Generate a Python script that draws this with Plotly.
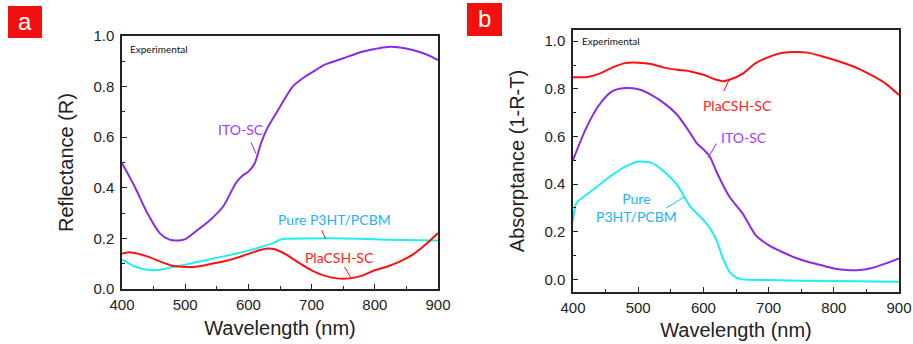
import plotly.graph_objects as go

# ---------- Panel a: Reflectance ----------
wl_ito_a = [400, 420, 440, 460, 475, 490, 500, 520, 540, 560, 580, 590, 600, 610, 620, 630, 650, 670, 690, 700, 720, 750, 780, 800, 820, 840, 860, 880, 900]
r_ito = [0.497, 0.405, 0.30, 0.22, 0.195, 0.192, 0.197, 0.234, 0.274, 0.326, 0.418, 0.447, 0.464, 0.497, 0.576, 0.636, 0.72, 0.80, 0.84, 0.855, 0.886, 0.912, 0.938, 0.949, 0.957, 0.955, 0.945, 0.929, 0.905]

wl_pure_a = [400, 420, 440, 460, 480, 500, 540, 580, 620, 640, 650, 660, 700, 750, 800, 820, 900]
r_pure = [0.116, 0.089, 0.076, 0.076, 0.087, 0.096, 0.118, 0.139, 0.166, 0.182, 0.195, 0.199, 0.20, 0.20, 0.197, 0.195, 0.192]

wl_pla_a = [400, 410, 420, 440, 460, 480, 500, 520, 540, 560, 580, 600, 620, 630, 640, 660, 680, 700, 720, 740, 760, 780, 800, 820, 840, 860, 880, 900]
r_pla = [0.139, 0.145, 0.142, 0.129, 0.109, 0.092, 0.087, 0.089, 0.099, 0.109, 0.122, 0.139, 0.155, 0.16, 0.158, 0.136, 0.103, 0.074, 0.053, 0.042, 0.042, 0.053, 0.074, 0.089, 0.109, 0.136, 0.175, 0.221]

# ---------- Panel b: Absorptance ----------
wl_pla_b = [400, 420, 440, 460, 480, 500, 520, 540, 560, 580, 600, 620, 630, 640, 660, 680, 700, 720, 740, 760, 780, 800, 820, 840, 860, 880, 900]
a_pla = [0.849, 0.849, 0.863, 0.889, 0.908, 0.91, 0.904, 0.889, 0.88, 0.873, 0.859, 0.838, 0.832, 0.838, 0.863, 0.908, 0.933, 0.95, 0.955, 0.952, 0.938, 0.922, 0.904, 0.882, 0.854, 0.821, 0.774]

wl_ito_b = [400, 420, 440, 460, 480, 500, 520, 540, 560, 580, 590, 600, 610, 620, 640, 660, 680, 700, 720, 740, 760, 780, 800, 820, 840, 860, 880, 900]
a_ito = [0.501, 0.634, 0.732, 0.789, 0.803, 0.798, 0.775, 0.739, 0.69, 0.613, 0.571, 0.546, 0.515, 0.452, 0.347, 0.277, 0.186, 0.144, 0.116, 0.092, 0.074, 0.06, 0.046, 0.039, 0.039, 0.049, 0.067, 0.088]

wl_pure_b = [400, 405, 420, 440, 460, 480, 500, 520, 540, 560, 580, 600, 610, 620, 630, 640, 650, 660, 700, 800, 900]
a_pure = [0.242, 0.32, 0.354, 0.396, 0.438, 0.473, 0.494, 0.49, 0.452, 0.396, 0.305, 0.249, 0.215, 0.165, 0.088, 0.032, 0.008, 0.0, -0.003, -0.007, -0.01]

x_ticks = [400, 500, 600, 700, 800, 900]
y_ticks = [0.0, 0.2, 0.4, 0.6, 0.8, 1.0]
y_tick_text = ["0.0", "0.2", "0.4", "0.6", "0.8", "1.0"]

PURPLE = "#8A2BE6"
CYAN = "#1FEFF0"
RED = "#FF1010"
LBL_PURPLE = "#A33BFF"
LBL_CYAN = "#1FB0FF"
LBL_RED = "#FF2020"

fig = go.Figure()
def line(x, y, color, xa, ya):
    fig.add_trace(go.Scatter(x=x, y=y, mode="lines",
                             line=dict(color=color, width=2, shape="spline", smoothing=0.7),
                             xaxis=xa, yaxis=ya, showlegend=False, hoverinfo="skip"))

line(wl_ito_a, r_ito, PURPLE, "x", "y")
line(wl_pure_a, r_pure, CYAN, "x", "y")
line(wl_pla_a, r_pla, RED, "x", "y")
line(wl_pla_b, a_pla, RED, "x2", "y2")
line(wl_ito_b, a_ito, PURPLE, "x2", "y2")
line(wl_pure_b, a_pure, CYAN, "x2", "y2")

tick_font = dict(family="Liberation Sans, Arial", size=15, color="#222")
title_font = dict(family="Liberation Sans, Arial", size=20, color="#222")

W, H = 913, 344

def xdom(a, b):
    return [a / W, b / W]

def ydom(top, bottom):
    return [1 - bottom / H, 1 - top / H]

axis_common = dict(showline=True, linecolor="#222", linewidth=1.5, mirror=True, ticks="inside", ticklen=5,
                   tickcolor="#222", showgrid=False, zeroline=False, tickfont=tick_font, automargin=False,
                   minor=dict(ticks="inside", ticklen=3, tickcolor="#222"))

fig.update_layout(
    width=W, height=H, margin=dict(l=0, r=0, t=0, b=0),
    paper_bgcolor="white", plot_bgcolor="white",
    xaxis=dict(domain=xdom(122, 438), range=[400, 900], tickvals=x_ticks, anchor="y",
               title=dict(text="Wavelength (nm)", font=title_font, standoff=9), ticklabelstandoff=1, **axis_common),
    yaxis=dict(domain=ydom(36, 289), range=[0, 1.0], tickvals=y_ticks, ticktext=y_tick_text, anchor="x",
               title=dict(text="Reflectance (R)", font=title_font, standoff=14), ticklabelstandoff=3, **axis_common),
    xaxis2=dict(domain=xdom(573, 899), range=[400, 900], tickvals=x_ticks, anchor="y2",
                title=dict(text="Wavelength (nm)", font=title_font, standoff=8), ticklabelstandoff=1, **axis_common),
    yaxis2=dict(domain=ydom(30, 292), range=[-0.053, 1.047], tickvals=y_ticks, ticktext=y_tick_text, anchor="x2",
                title=dict(text="Absorptance (1-R-T)", font=title_font, standoff=14), ticklabelstandoff=3, **axis_common),
)
fig.update_xaxes(minor_dtick=50)
fig.update_yaxes(minor_dtick=0.1)

# Panel letters
fig.add_shape(type="rect", xref="paper", yref="paper", x0=8 / W, x1=42 / W, y0=1 - 38 / H, y1=1 - 6 / H,
              fillcolor="#F01010", line=dict(width=0), layer="below")
fig.add_shape(type="rect", xref="paper", yref="paper", x0=467 / W, x1=502 / W, y0=1 - 36 / H, y1=1 - 3 / H,
              fillcolor="#F01010", line=dict(width=0), layer="below")
letter_font = dict(family="Liberation Sans, Arial", size=24, color="white")
fig.add_annotation(text="a", xref="paper", yref="paper", x=25 / W, y=1 - 21 / H, xanchor="center", yanchor="middle",
                   showarrow=False, font=letter_font)
fig.add_annotation(text="b", xref="paper", yref="paper", x=484.5 / W, y=1 - 19 / H, xanchor="center", yanchor="middle",
                   showarrow=False, font=letter_font)

lab_font = "Lato, Noto Sans"
exp_font = dict(family=lab_font, size=10, color="#111")
fig.add_annotation(text="Experimental", xref="x", yref="y", x=410, y=0.95, xanchor="left", showarrow=False, font=exp_font)
fig.add_annotation(text="Experimental", xref="x2", yref="y2", x=410, y=1.0, xanchor="left", showarrow=False, font=exp_font)

def label(text, xref, yref, x, y, color):
    fig.add_annotation(text=text, xref=xref, yref=yref, x=x, y=y, showarrow=False,
                       font=dict(family=lab_font, size=14, color=color))

# Panel a labels
label("ITO-SC", "x", "y", 589, 0.63, LBL_PURPLE)
label("Pure P3HT/PCBM", "x", "y", 736, 0.273, LBL_CYAN)
label("PlaCSH-SC", "x", "y", 744, 0.123, LBL_RED)
# Panel b labels
label("PlaCSH-SC", "x2", "y2", 653, 0.73, LBL_RED)
label("ITO-SC", "x2", "y2", 662, 0.595, LBL_PURPLE)
label("Pure<br>P3HT/PCBM", "x2", "y2", 498, 0.3, LBL_CYAN)

# Leader lines
def leader(xref, yref, x0, y0, x1, y1, color):
    fig.add_shape(type="line", xref=xref, yref=yref, x0=x0, y0=y0, x1=x1, y1=y1, line=dict(color=color, width=1))

leader("x", "y", 604, 0.58, 612, 0.535, PURPLE)
leader("x", "y", 716, 0.233, 722, 0.198, RED)
leader("x", "y", 752, 0.088, 762, 0.045, RED)
leader("x2", "y2", 631, 0.79, 640, 0.84, RED)
leader("x2", "y2", 607, 0.51, 620, 0.57, PURPLE)
leader("x2", "y2", 543, 0.3, 570, 0.345, LBL_CYAN)

fig.write_html("out.html")
